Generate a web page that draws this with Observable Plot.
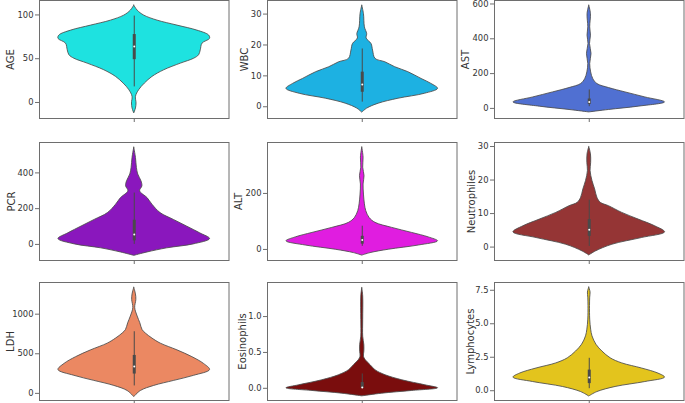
<!DOCTYPE html>
<html><head><meta charset="utf-8">
<script src="https://cdn.jsdelivr.net/npm/d3@7"></script>
<script src="https://cdn.jsdelivr.net/npm/@observablehq/plot@0.6"></script>
<style>
body{margin:0;background:#fff;}
#chart{position:relative;width:685px;height:403px;overflow:hidden;background:#fff;}
#chart svg{position:absolute;}
</style></head><body><div id="chart"></div>
<script>
// ---- data ----
const names = ["AGE","WBC","AST","PCR","ALT","Neutrophiles","LDH","Eosinophils","Lymphocytes"];
const colors = ["#1ee2e0","#1db1e2","#5070d2","#8a17bd","#e01de0","#953535","#eb8862","#7a0d0d","#e3c41d"];
const yTicks = [[0,50,100],[0,10,20,30],[0,200,400,600],[0,200,400],[0,200],[0,10,20,30],[0,500,1000],[0,0.5,1.0],[0,2.5,5.0,7.5]];
const yDomains = [[-18.3,116.5],[-3.8,34.4],[-58,620],[-90,570],[-39.5,382],[-4,31.2],[-90,1400],[-0.17,1.475],[-0.73,8.08]];

// violin profiles: value levels and half-widths (x units, category width 1)
const ageV = [110.6,104.9,99.2,93.5,87.8,82.1,76.5,72.7,67.2,59.6,53.9,50,44.4,36.8,29.2,21.6,14.1,6.5,-1.1,-6.8,-12.5];
const ageW = [0,0.018,0.053,0.123,0.228,0.333,0.395,0.4,0.36,0.351,0.342,0.316,0.246,0.158,0.096,0.056,0.026,0.009,0.012,0.009,0];
const wbcV = [32.7,30,25.7,23.5,22.1,20.3,18.2,15.5,14.4,12.8,11.2,9,7.4,5.8,4.2,2.6,1,-0.6,-1.9];
const wbcW = [0,0.009,0.014,0.026,0.023,0.049,0.057,0.07,0.122,0.174,0.243,0.313,0.365,0.4,0.33,0.191,0.087,0.026,0];
const astV = [590,542,466,418,370,313,255,207,169,140,117,92,63,34.5,10,-9,-23];
const astW = [0,0.009,0.005,0.009,0.004,0.012,0.005,0.01,0.021,0.043,0.104,0.191,0.296,0.4,0.261,0.104,0];
const pcrV = [541,484,428,391,353,325,297,259,222,175,137,100,62,30,0,-22,-45,-64];
const pcrW = [0,0.009,0.014,0.021,0.038,0.043,0.031,0.07,0.096,0.139,0.209,0.278,0.348,0.4,0.313,0.174,0.07,0];
const altV = [364,328,292,262,232,196,161,137,112,95,77,59,43,29,14,-1,-13,-22];
const altW = [0,0.007,0.005,0.012,0.007,0.009,0.014,0.021,0.039,0.07,0.158,0.263,0.351,0.4,0.298,0.14,0.044,0];
const neuV = [29.8,27.7,25.1,22.7,19.7,17.2,14.7,13.2,12.2,10.2,8.2,6.2,4.4,2.7,0.7,-1.3,-2.5];
const neuW = [0,0.009,0.01,0.007,0.017,0.031,0.043,0.061,0.104,0.174,0.261,0.348,0.4,0.278,0.122,0.035,0];
const ldhV = [1333,1248,1180,1077,970,885,799,756,692,628,543,457,372,295,222,158,94,30,-47];
const ldhW = [0,0.009,0.011,0.005,0.018,0.032,0.044,0.061,0.096,0.14,0.228,0.307,0.368,0.4,0.316,0.211,0.105,0.035,0];
const eosV = [1.397,1.28,0.953,0.72,0.603,0.509,0.44,0.393,0.322,0.252,0.182,0.112,0.042,0,-0.037,-0.075,-0.112];
const eosW = [0,0.005,0.005,0.005,0.011,0.011,0.009,0.018,0.044,0.07,0.123,0.211,0.333,0.4,0.263,0.105,0];
const lymV = [7.7,7.33,6.95,6.32,5.31,4.56,4.06,3.43,2.92,2.42,2.04,1.66,1.28,0.98,0.65,0.28,-0.1,-0.43];
const lymW = [0,0.007,0.005,0.004,0.005,0.01,0.017,0.038,0.07,0.113,0.174,0.278,0.365,0.4,0.296,0.139,0.043,0];

// box statistics
const whiskerLow  = [17.8, 1.5, 10, 0, 11, 0.2, 94, 0, 0.15];
const q1          = [48.9, 4.7, 23, 20, 19, 3.2, 244, 0, 0.53];
const median      = [64, 7.2, 37, 55, 34, 5.2, 338, 0.01, 0.98];
const q3          = [77.6, 11.2, 54, 135, 47, 8.2, 479, 0.08, 1.54];
const whiskerHigh = [98.7, 18.7, 106, 287, 83, 14, 778, 0.2, 2.42];

const profileV = [ageV, wbcV, astV, pcrV, altV, neuV, ldhV, eosV, lymV];
const profileW = [ageW, wbcW, astW, pcrW, altW, neuW, ldhW, eosW, lymW];

// ---- layout ----
const colLeft = [39, 266.7, 494];
const rowTop = [0, 141.5, 281.7];
const fw = 189.5, fh = 118;
const labelOffsets = [32.3, 27, 32.3, 32, 32.7, 26.5, 33, 29, 27.5];
const mL = 40, mT = 2, mB = 8, mR = 2;
const gray = "#6e6e6e", dark = "#4a4a4a";

const chart = document.getElementById("chart");
names.forEach((name, i) => {
  const col = i % 3, row = Math.floor(i / 3);
  const prof = profileV[i].map((v, k) => ({v, w: profileW[i][k]}));
  const oneDecimal = (i === 7 || i === 8);
  const fmt = oneDecimal ? d3.format(".1f") : (d => String(d));
  const svg = Plot.plot({
    width: fw + mL + mR,
    height: fh + mT + mB,
    marginLeft: mL, marginTop: mT, marginRight: mR, marginBottom: mB,
    x: {domain: [-0.5, 0.5], axis: null},
    y: {domain: yDomains[i], axis: null},
    style: {fontFamily: "DejaVu Sans", color: "#333", background: "transparent", overflow: "visible"},
    marks: [
      Plot.areaX(prof, {y: "v", x1: d => -d.w, x2: d => d.w, fill: colors[i], stroke: "#4a4a4a", strokeWidth: 0.85, curve: "catmull-rom"}),
      Plot.ruleX([0], {y1: () => whiskerLow[i], y2: () => whiskerHigh[i], stroke: dark, strokeWidth: 1}),
      Plot.ruleX([0], {y1: () => q1[i], y2: () => q3[i], stroke: dark, strokeWidth: 3}),
      Plot.dot([0], {x: d => d, y: () => median[i], r: 1, fill: "white", stroke: null}),
      Plot.frame({stroke: gray, strokeWidth: 1}),
      Plot.axisY({ticks: yTicks[i], tickSize: 4, tickPadding: 2, fontSize: 8.4, tickFormat: fmt, stroke: gray, label: null}),
      Plot.axisY({ticks: [], label: name, labelAnchor: "center", labelArrow: "none", labelOffset: labelOffsets[i], fontSize: 10}),
      Plot.axisX({ticks: [0], tickSize: 4, tickFormat: () => "", stroke: gray, label: null})
    ]
  });
  svg.style.left = (colLeft[col] - mL) + "px";
  svg.style.top = (rowTop[row] - mT) + "px";
  chart.appendChild(svg);
});
</script></body></html>
